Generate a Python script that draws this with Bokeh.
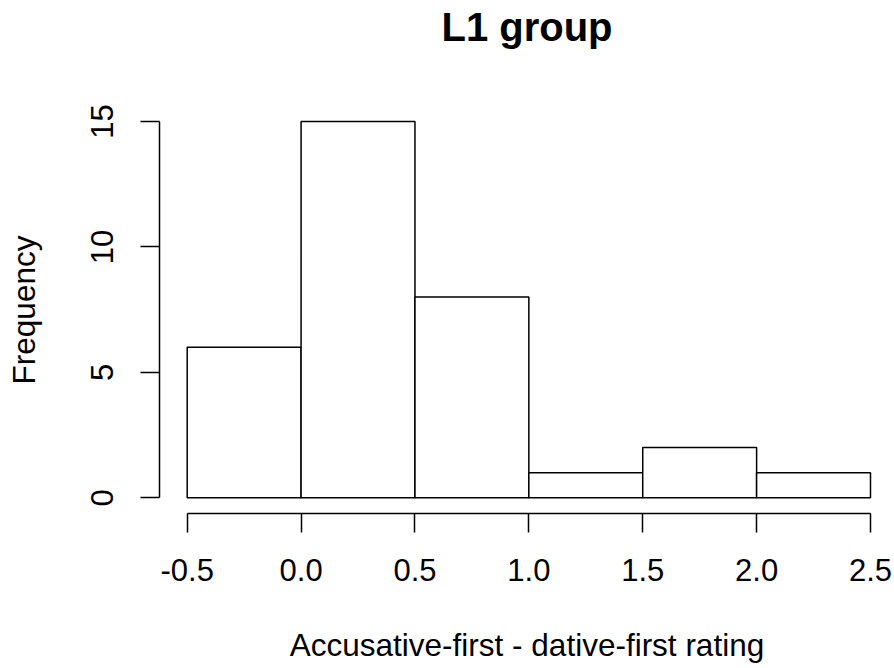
from bokeh.plotting import figure
from bokeh.models import ColumnDataSource, FixedTicker, Range1d, LinearAxis
from bokeh.embed import file_html
from bokeh.resources import INLINE

bin_left = [-0.5, 0.0, 0.5, 1.0, 1.5, 2.0]
bin_right = [0.0, 0.5, 1.0, 1.5, 2.0, 2.5]
counts = [6, 15, 8, 1, 2, 1]
x_ticks = [-0.5, 0.0, 0.5, 1.0, 1.5, 2.0, 2.5]
y_ticks = [0, 5, 10, 15]
title_text = "L1 group"

FONT = "Liberation Sans"

W, H = 894, 668
BL, BR, BT, BB = 159, 0, 106, 155
x0, x1 = -0.6216, 2.6054
y0, y1 = -0.626, 15.596

p = figure(width=W, height=H, output_backend="svg", toolbar_location=None,
           x_range=Range1d(x0, x1), y_range=Range1d(y0, y1),
           min_border_left=BL, min_border_right=BR, min_border_top=BT, min_border_bottom=BB)
p.outline_line_color = None
p.xgrid.visible = False
p.ygrid.visible = False

src = ColumnDataSource(dict(left=bin_left, right=bin_right, top=counts, bottom=[0] * len(counts)))
p.quad(left="left", right="right", top="top", bottom="bottom", source=src,
       fill_color="white", line_color="black", line_width=1.5)

xa = p.below[0]
ya = p.left[0]

for ax, ticks, bounds in ((xa, x_ticks, (-0.5, 2.5)), (ya, y_ticks, (0, 15))):
    ax.ticker = FixedTicker(ticks=ticks)
    ax.bounds = bounds
    ax.minor_tick_line_color = None
    ax.major_tick_out = 19
    ax.major_tick_in = 0
    ax.axis_line_color = "black"
    ax.axis_line_width = 1.5
    ax.major_tick_line_color = "black"
    ax.major_tick_line_width = 1.5
    ax.major_label_text_font = FONT
    ax.major_label_text_font_size = "31px"
    ax.major_label_text_color = "black"
    ax.axis_label_text_font = FONT
    ax.axis_label_text_font_size = "31.5px"
    ax.axis_label_text_font_style = "normal"
    ax.axis_label_text_color = "black"

xa.major_label_standoff = 26
xa.axis_label_standoff = 43
ya.major_label_standoff = 27
ya.axis_label_standoff = 47

xa.major_label_overrides = {t: f"{t:.1f}" for t in x_ticks}
xa.axis_label = "Accusative-first - dative-first rating"
ya.axis_label = "Frequency"
ya.major_label_orientation = "vertical"

# main title: carried by an "above" axis with no line, ticks or tick labels
title_axis = LinearAxis(ticker=FixedTicker(ticks=[]), axis_label=title_text)
title_axis.axis_line_color = None
title_axis.major_tick_line_color = None
title_axis.minor_tick_line_color = None
title_axis.major_tick_out = 0
title_axis.major_tick_in = 0
title_axis.minor_tick_out = 0
title_axis.minor_tick_in = 0
title_axis.major_label_standoff = 0
title_axis.major_label_text_font_size = "0px"
title_axis.axis_label_text_font = FONT
title_axis.axis_label_text_font_size = "40px"
title_axis.axis_label_text_font_style = "bold"
title_axis.axis_label_text_color = "black"
title_axis.axis_label_standoff = 58
p.add_layout(title_axis, "above")

open("out.html", "w").write(file_html(p, INLINE))
